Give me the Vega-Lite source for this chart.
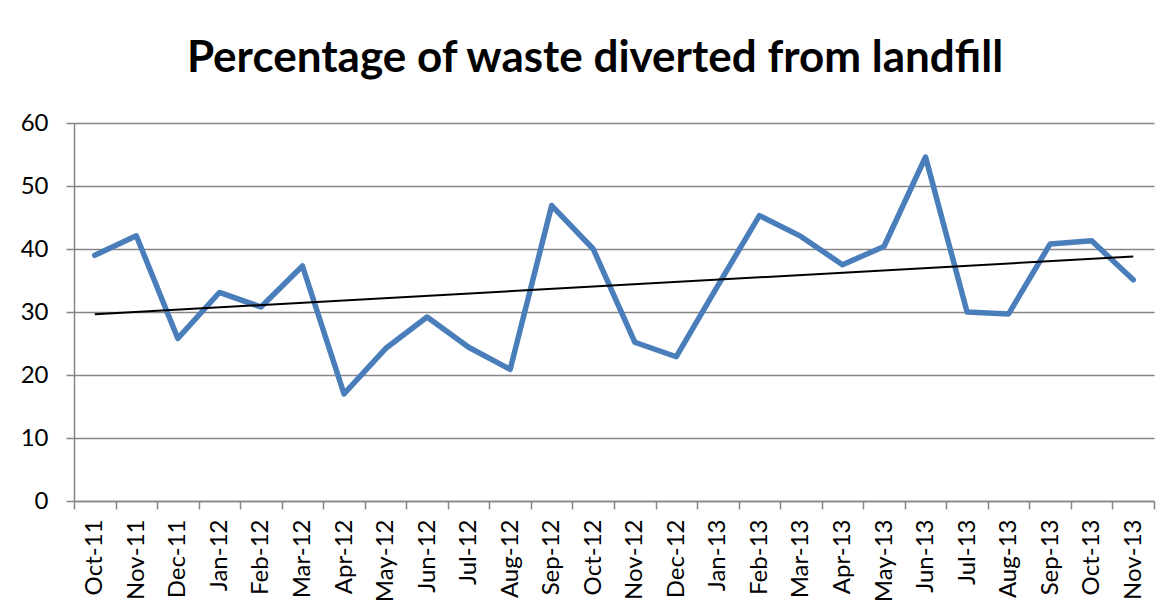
{
  "$schema": "https://vega.github.io/schema/vega-lite/v6.json",
  "width": 1080,
  "height": 378,
  "padding": {"left": 20, "top": 37, "right": 10, "bottom": 0},
  "background": "white",
  "config": {"view": {"stroke": null}, "font": "Lato"},
  "title": {"text": "Percentage of waste diverted from landfill", "font": "Lato", "fontSize": 44, "fontWeight": "bold", "color": "black", "anchor": "middle", "offset": 30, "dx": -19},
  "datasets": {
    "waste": [
      {"i": 1, "month": "Oct-11", "pct": 39.0},
      {"i": 2, "month": "Nov-11", "pct": 42.1},
      {"i": 3, "month": "Dec-11", "pct": 25.8},
      {"i": 4, "month": "Jan-12", "pct": 33.1},
      {"i": 5, "month": "Feb-12", "pct": 30.8},
      {"i": 6, "month": "Mar-12", "pct": 37.3},
      {"i": 7, "month": "Apr-12", "pct": 17.0},
      {"i": 8, "month": "May-12", "pct": 24.2},
      {"i": 9, "month": "Jun-12", "pct": 29.2},
      {"i": 10, "month": "Jul-12", "pct": 24.4},
      {"i": 11, "month": "Aug-12", "pct": 20.9},
      {"i": 12, "month": "Sep-12", "pct": 46.9},
      {"i": 13, "month": "Oct-12", "pct": 40.0},
      {"i": 14, "month": "Nov-12", "pct": 25.2},
      {"i": 15, "month": "Dec-12", "pct": 22.9},
      {"i": 16, "month": "Jan-13", "pct": 34.2},
      {"i": 17, "month": "Feb-13", "pct": 45.3},
      {"i": 18, "month": "Mar-13", "pct": 42.0},
      {"i": 19, "month": "Apr-13", "pct": 37.5},
      {"i": 20, "month": "May-13", "pct": 40.4},
      {"i": 21, "month": "Jun-13", "pct": 54.6},
      {"i": 22, "month": "Jul-13", "pct": 30.0},
      {"i": 23, "month": "Aug-13", "pct": 29.7},
      {"i": 24, "month": "Sep-13", "pct": 40.8},
      {"i": 25, "month": "Oct-13", "pct": 41.3},
      {"i": 26, "month": "Nov-13", "pct": 35.1}
    ]
  },
  "data": {"name": "waste"},
  "encoding": {
    "x": {
      "field": "month",
      "type": "ordinal",
      "scale": {
        "type": "band",
        "paddingInner": 0,
        "paddingOuter": 0,
        "domain": ["Oct-11","Nov-11","Dec-11","Jan-12","Feb-12","Mar-12","Apr-12","May-12","Jun-12","Jul-12","Aug-12","Sep-12","Oct-12","Nov-12","Dec-12","Jan-13","Feb-13","Mar-13","Apr-13","May-13","Jun-13","Jul-13","Aug-13","Sep-13","Oct-13","Nov-13"]
      },
      "axis": {
        "title": null,
        "labelAngle": -90,
        "labelFont": "Lato",
        "labelFontSize": 24,
        "labelColor": "black",
        "labelPadding": 10,
        "tickSize": 8,
        "tickColor": "#868686",
        "tickWidth": 1.5,
        "domainColor": "#868686",
        "domainWidth": 1.5,
        "tickBand": "extent",
        "grid": false
      }
    },
    "y": {
      "field": "pct",
      "type": "quantitative",
      "scale": {"domain": [0, 60], "nice": false},
      "axis": {
        "title": null,
        "values": [0, 10, 20, 30, 40, 50, 60],
        "labelFont": "Lato",
        "labelFontSize": 24,
        "labelColor": "black",
        "labelPadding": 18,
        "tickSize": 8,
        "tickColor": "#868686",
        "tickWidth": 1.5,
        "domainColor": "#868686",
        "domainWidth": 1.5,
        "grid": true,
        "gridColor": "#868686",
        "gridWidth": 1.5
      }
    }
  },
  "layer": [
    {
      "mark": {"type": "line", "color": "#4A7EBB", "strokeWidth": 5.5, "strokeJoin": "round", "strokeCap": "round"}
    },
    {
      "transform": [
        {"regression": "pct", "on": "i"},
        {"lookup": "i", "from": {"data": {"name": "waste"}, "key": "i", "fields": ["month"]}}
      ],
      "mark": {"type": "line", "color": "black", "strokeWidth": 2}
    }
  ]
}
